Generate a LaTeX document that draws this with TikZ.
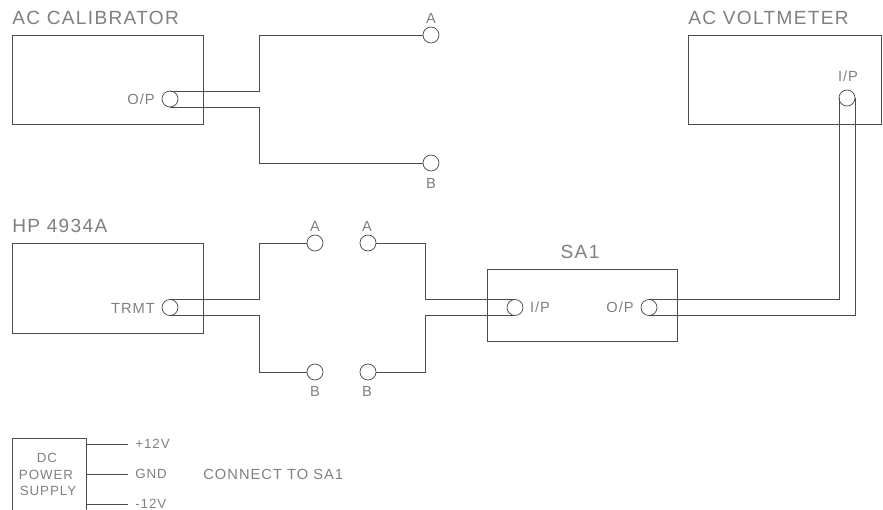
\documentclass[tikz,border=0pt]{standalone}
\usepackage{fontspec}
\newfontfamily\cadfont[LetterSpace=7]{Liberation Sans}
\tikzset{every picture/.style={line width=0.55pt}}
\tikzset{
  box/.style={draw=black!70,inner sep=0pt,outer sep=0pt},
  port/.style={circle,draw=black!70,inner sep=0pt,outer sep=0pt,minimum size=12pt},
  wire/.style={draw=black!70},
  biglabel/.style={text=black!50,inner sep=0pt,font=\cadfont\fontsize{14.3}{14.3}\selectfont},
  smalllabel/.style={text=black!50,inner sep=0pt,font=\cadfont\fontsize{11}{11}\selectfont},
  tinylabel/.style={text=black!50,inner sep=0pt,font=\cadfont\fontsize{10}{10}\selectfont}
}
\newcommand{\busline}[3]{\draw[wire] (#1) -- (#1 -| #3) -- (#2 -| #3) -- (#2);}

\begin{document}
\begin{tikzpicture}[x=0.75pt,y=0.75pt,yscale=-1,xscale=1]
\useasboundingbox (0,0) rectangle (883,510);
% Boxes
\node [box,minimum width=143.25pt,minimum height=67.1pt] (calbox) at (107.5,79.75) {};
\node [box,minimum width=143.25pt,minimum height=67.5pt] (hpbox) at (107.5,288) {};
\node [box,minimum width=142.5pt,minimum height=54pt] (sabox) at (582,305) {};
\node [box,minimum width=144.75pt,minimum height=67.1pt] (vmbox) at (784.5,79.75) {};
% Ports
\node [port] (calop) at (170,99) {};
\node [port] (cala) at (431,35) {};
\node [port] (calb) at (431,163) {};
\node [port] (hptr) at (170,307.5) {};
\node [port] (hpa) at (315,243) {};
\node [port] (hpb) at (315,372) {};
\node [port] (ina) at (368,243) {};
\node [port] (inb) at (368,372) {};
\node [port] (saip) at (515,307.5) {};
\node [port] (saop) at (649,307.5) {};
\node [port] (vmip) at (847,98) {};
% Bus positions
\coordinate (calbus) at (259,99);
\coordinate (hpbus) at (259,307);
\coordinate (inbus) at (425,307);
% Wires
\busline{calop.north}{cala.west}{calbus}
\busline{calop.south}{calb.west}{calbus}
\busline{hptr.north}{hpa.west}{hpbus}
\busline{hptr.south}{hpb.west}{hpbus}
\busline{ina.east}{saip.north}{inbus}
\busline{inb.east}{saip.south}{inbus}
\draw [wire] (saop.north) -| (vmip.west);
\draw [wire] (saop.south) -| (vmip.east);
% DC supply
\draw [wire] (12,510) |- (86,438) -- (86,510);
\coordinate (supp) at (86,444);
\coordinate (supg) at (86,474);
\coordinate (supn) at (86,504);
\node [tinylabel,anchor=west] (plus) at (135,444) {+12V};
\node [tinylabel,anchor=west] (gnd) at (135,474) {GND};
\node [tinylabel,anchor=west] (minus) at (135,504) {-12V};
\draw [wire,shorten >=5.25pt] (supp) -- (plus);
\draw [wire,shorten >=5.25pt] (supg) -- (gnd);
\draw [wire,shorten >=5.25pt] (supn) -- (minus);
% Text Node
\node [biglabel,anchor=west] (calname) at (12,18) {AC CALIBRATOR};
\node [biglabel,anchor=west] (vmname) at (688,18) {AC VOLTMETER};
\node [biglabel,anchor=west] (hpname) at (12,226) {HP 4934A};
\node [biglabel] (saname) at (580,252) {SA1};
\node [smalllabel] (calopl) at (141,99) {O/P};
\node [smalllabel] (hptrl) at (133,308) {TRMT};
\node [smalllabel] (saipl) at (540,307) {I/P};
\node [smalllabel] (saopl) at (620,307) {O/P};
\node [smalllabel] (vmipl) at (848,76) {I/P};
\node [smalllabel] (calal) at (431,18) {A};
\node [smalllabel] (calbl) at (431,183) {B};
\node [smalllabel] (hpal) at (315,226) {A};
\node [smalllabel] (hpbl) at (315,391) {B};
\node [smalllabel] (inal) at (367,226) {A};
\node [smalllabel] (inbl) at (367,391) {B};
\node [tinylabel] (supa) at (47,458) {DC};
\node [tinylabel] (supb) at (46,475) {POWER};
\node [tinylabel] (supc) at (48,491) {SUPPLY};
\node [smalllabel,anchor=west] (note) at (203,474) {CONNECT TO SA1};
\end{tikzpicture}
\end{document}
